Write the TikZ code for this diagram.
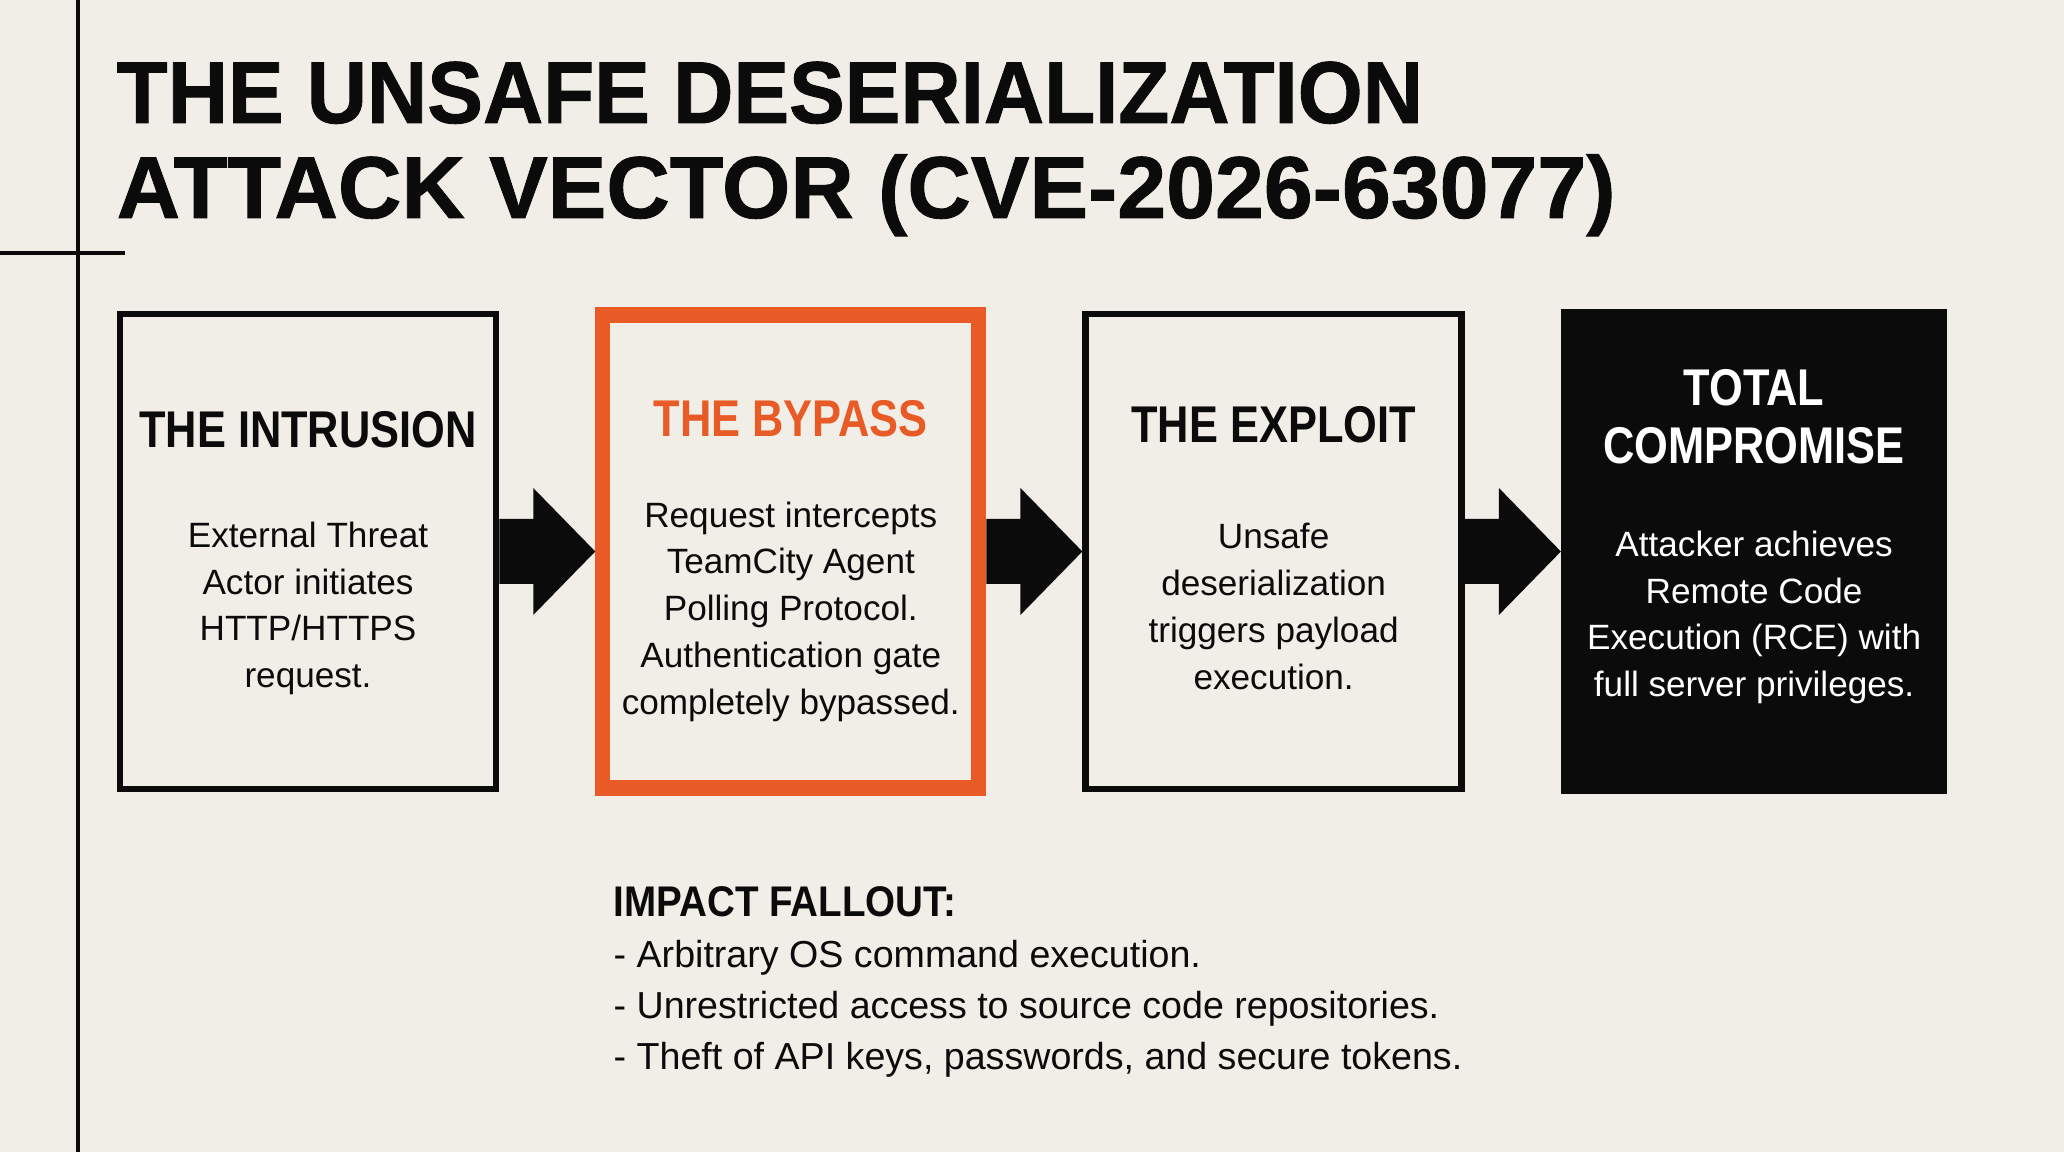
\documentclass[tikz,border=0pt]{standalone}
\usepackage{fontspec}
\setmainfont{Liberation Sans}
\newfontfamily\titlefont{Liberation Sans}[UprightFont=* Bold, FakeStretch=0.95, FakeBold=1]
\newfontfamily\titlewide{Liberation Sans}[UprightFont=* Bold, FakeStretch=1.0, FakeBold=1]
\newfontfamily\headfont{Liberation Sans}[UprightFont=* Bold, FakeStretch=0.84]
\newfontfamily\listfont{Liberation Sans}[UprightFont=* Bold, FakeStretch=0.90]
\usetikzlibrary{positioning}
\usetikzlibrary{calc}
\definecolor{paper}{HTML}{F0EEE7}
\definecolor{flame}{HTML}{E85B26}
\definecolor{ink}{HTML}{0B0B0B}

% fat block arrow from one stage to the next
\newcommand{\blockarrow}[2]{%
  \fill[ink] ($(#1.east)+(0,.325)$) -- ($(#2.west)+(-.62,.325)$) -- ($(#2.west)+(-.62,.635)$)
    -- (#2.west) -- ($(#2.west)+(-.62,-.635)$) -- ($(#2.west)+(-.62,-.325)$) -- ($(#1.east)+(0,-.325)$) -- cycle;}

\begin{document}
\begin{tikzpicture}[
	stage/.style={draw=ink, line width=1.85pt, minimum width=3.76cm, minimum height=4.75cm, inner sep=0pt},
	hot/.style={stage, draw=flame, line width=4.3pt, minimum height=4.73cm},
	dark/.style={stage, fill=ink, minimum width=3.80cm, minimum height=4.79cm},
	hd/.style={font=\headfont\fontsize{14.7}{16.5}\selectfont, text=ink, align=center, inner sep=0pt},
	txt/.style={font=\fontsize{10}{13.3}\selectfont, text=ink, align=center, inner sep=0pt},
	list/.style={font=\fontsize{10.7}{14.6}\selectfont, text=ink, anchor=base west, inner sep=0pt},
	node distance=0.96cm]
	\fill[paper] (0,0) rectangle (20.64,11.52);
	\useasboundingbox (0,0) rectangle (20.64,11.52);

	% frame lines
	\draw[ink, line width=1pt] (0.78,0) -- (0.78,11.52);
	\draw[ink, line width=1pt] (0,8.99) -- (1.25,8.99);

	% title
	\node[font=\titlefont\fontsize{25}{25}\selectfont, text=ink, anchor=base west, inner sep=0pt] (ttl1) at (1.16,10.29) {THE UNSAFE DESERIALIZATION};
	\node[font=\titlewide\fontsize{25}{25}\selectfont, text=ink, anchor=base west, inner sep=0pt] (ttl2) at ($(ttl1.base west)+(0,-0.95)$) {ATTACK VECTOR (CVE-2026-63077)};

	% stages
	\node[stage] (b1) at (3.08,6.005) {};
	\node[hot, right=of b1] (b2) {};
	\node[stage, right=of b2] (b3) {};
	\node[dark, right=of b3] (b4) {};

	\node[hd] (h1) at ($(b1.center)+(0,1.22)$) {THE INTRUSION};
	\node[hd, text=flame] (h2) at ($(b2.center)+(0,1.33)$) {THE BYPASS};
	\node[hd] (h3) at ($(b3.center)+(0,1.265)$) {THE EXPLOIT};
	\node[hd, text=white] (h4) at ($(b4.center)+(0,1.345)$) {TOTAL\\COMPROMISE};

	\node[txt] (d1) at ($(b1.center)+(0,-0.57)$) {External Threat\\Actor initiates\\HTTP/HTTPS\\request.};
	\node[txt] (d2) at ($(b2.center)+(0,-0.60)$) {Request intercepts\\TeamCity Agent\\Polling Protocol.\\Authentication gate\\completely bypassed.};
	\node[txt] (d3) at ($(b3.center)+(0,-0.55)$) {Unsafe\\deserialization\\triggers payload\\execution.};
	\node[txt, text=white] (d4) at ($(b4.center)+(0,-0.66)$) {Attacker achieves\\Remote Code\\Execution (RCE) with\\full server privileges.};

	\blockarrow{b1}{b2}
	\blockarrow{b2}{b3}
	\blockarrow{b3}{b4}

	% fallout list
	\node[font=\listfont\fontsize{12.2}{14}\selectfont, text=ink, anchor=base west, inner sep=0pt] (imp) at (6.13,2.35) {IMPACT FALLOUT:};
	\node[list] (i1) at ($(imp.base west)+(0,-0.51)$) {- Arbitrary OS command execution.};
	\node[list] (i2) at ($(i1.base west)+(0,-0.51)$) {- Unrestricted access to source code repositories.};
	\node[list] (i3) at ($(i2.base west)+(0,-0.51)$) {- Theft of API keys, passwords, and secure tokens.};
\end{tikzpicture}
\end{document}
